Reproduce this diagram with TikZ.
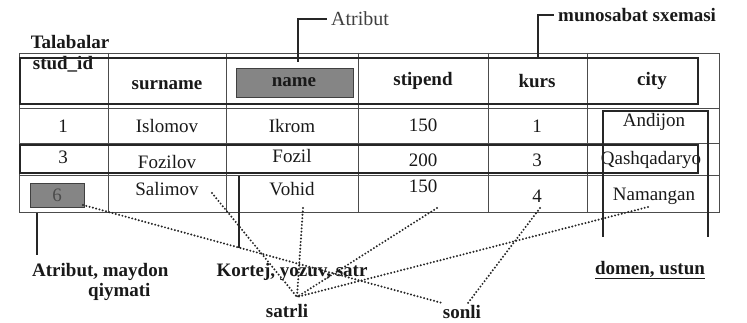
\documentclass[tikz,border=0pt]{standalone}
\usepackage{fontspec}
\setmainfont{Liberation Serif}
\usetikzlibrary{calc}

\begin{document}
\begin{tikzpicture}[x=1pt, y=-1pt]

\useasboundingbox (0, 0) rectangle (747, 323) ;

\newcommand{\plainsize}{\fontsize{19}{20}\selectfont}
\newcommand{\boldsize}{\fontsize{19}{20}\selectfont\bfseries}

\tikzstyle{grid line} = [line width=.8pt, color=black!70]
\tikzstyle{frame line} = [line width=2.4pt, color=black!85]
\tikzstyle{pointer line} = [line width=2pt, color=black!85]
\tikzstyle{dot line} = [line width=2.2pt, color=black!85, line cap=round, dash pattern=on 0pt off 3.4pt]
\tikzstyle{gray cell} = [fill=black!48, draw=black!75, line width=.8pt]
\tikzstyle{cell text} = [inner sep=0pt, text=black!90, font=\plainsize]
\tikzstyle{title text} = [inner sep=0pt, text=black!90, font=\boldsize]

% table

\draw [grid line] (19, 53) rectangle (719, 212) ;
\foreach \xline in {108, 226, 358, 488, 587}
	\draw [grid line] (\xline, 53) -- (\xline, 212) ;
\foreach \yline in {108, 143, 175}
	\draw [grid line] (19, \yline) -- (719, \yline) ;

\draw [gray cell] (236, 68) rectangle (353, 97) ;
\draw [gray cell] (30, 183) rectangle (84, 207) ;

% header

\node [title text] (talabalar) at (70, 42) {Talabalar} ;
\node [title text] (studid) at (63, 64) {stud\_id} ;
\node [title text] (surname) at (167, 85) {surname} ;
\node [title text] (name) at (294, 82) {name} ;
\node [title text] (stipend) at (423, 81) {stipend} ;
\node [title text] (kurs) at (537, 81) {kurs} ;
\node [title text] (city) at (652, 81) {city} ;

% rows

\node [cell text] (id1) at (63, 126) {1} ;
\node [cell text] (surname1) at (167, 126) {Islomov} ;
\node [cell text] (name1) at (292, 126) {Ikrom} ;
\node [cell text] (stipend1) at (423, 125) {150} ;
\node [cell text] (kurs1) at (537, 126) {1} ;
\node [cell text] (city1) at (654, 122) {Andijon} ;

\node [cell text] (id2) at (63, 157) {3} ;
\node [cell text] (surname2) at (167, 162) {Fozilov} ;
\node [cell text] (name2) at (292, 156) {Fozil} ;
\node [cell text] (stipend2) at (423, 160) {200} ;
\node [cell text] (kurs2) at (537, 160) {3} ;
\node [cell text] (city2) at (651, 160) {Qashqadaryo} ;

\node [cell text, text=black!70] (id3) at (57, 195) {6} ;
\node [cell text] (surname3) at (167, 189) {Salimov} ;
\node [cell text] (name3) at (292, 189) {Vohid} ;
\node [cell text] (stipend3) at (423, 186) {150} ;
\node [cell text] (kurs3) at (537, 196) {4} ;
\node [cell text] (city3) at (654, 196) {Namangan} ;

% frames: schema, tuple, domain

\draw [frame line] (20, 58) rectangle (698, 104) ;
\draw [frame line] (20, 145) rectangle (698, 173) ;
\draw [frame line] (603, 237) -- (603, 111) -- (708, 111) -- (708, 237) ;

% pointers

\node [cell text, text=black!75, font=\fontsize{20}{22}\selectfont, anchor=west] (atribut) at (331, 19) {Atribut} ;
\coordinate (atribut foot) at (298, 62) ;
\draw [pointer line, line width=1.6pt, shorten >=4pt] (atribut foot) |- (atribut.west) ;

\node [title text, anchor=west] (sxema) at (558, 15) {munosabat sxemasi} ;
\coordinate (sxema foot) at (538, 58) ;
\draw [pointer line, shorten >=4pt] (sxema foot) |- (sxema.west) ;

\node [title text, align=left, anchor=north west] (maydon) at (32, 263)
	{Atribut, maydon\\\hspace*{56pt}qiymati} ;
\coordinate (maydon top) at (37, 213) ;
\coordinate (maydon end) at (37, 255) ;
\draw [pointer line] (maydon top) -- (maydon end) ;

\node [title text] (kortej) at (292, 272) {Kortej, yozuv, satr} ;
\coordinate (kortej top) at (239, 176) ;
\coordinate (kortej end) at (239, 248) ;
\draw [pointer line] (kortej top) -- (kortej end) ;

\node [title text] (domen) at (650, 270) {\underline{domen, ustun}} ;

% value types

\node [title text] (satrli) at (287, 311) {satrli} ;
\node [title text] (sonli) at (462, 312) {sonli} ;

\coordinate (satrli hub) at (297, 297) ;
\coordinate (sonli hub) at (442, 303) ;
\coordinate (sonli top) at (468, 303) ;

\coordinate (salimov tail) at (212, 193) ;
\coordinate (vohid tail) at (303, 208) ;
\coordinate (stipend tail) at (437, 208) ;
\coordinate (namangan tail) at (648, 207) ;
\coordinate (six tail) at (83, 205) ;
\coordinate (kurs tail) at (540, 208) ;

\foreach \tail in {salimov tail, vohid tail, stipend tail, namangan tail}
	\draw [dot line] (\tail) -- (satrli hub) ;

\draw [dot line] (six tail) -- (sonli hub) ;
\draw [dot line] (kurs tail) -- (sonli top) ;

\end{tikzpicture}
\end{document}
